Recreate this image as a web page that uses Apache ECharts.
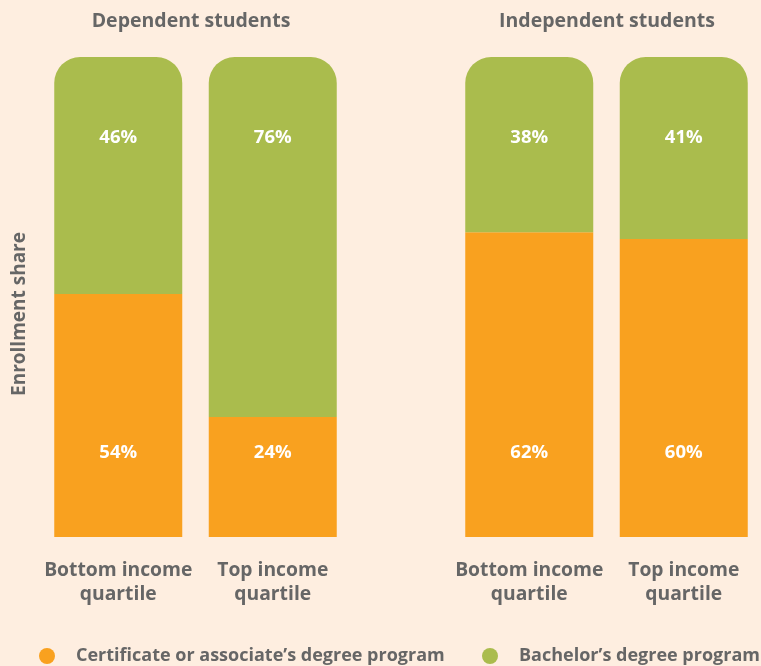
<!DOCTYPE html>
<html>
<head>
<meta charset="utf-8">
<script src="https://cdn.jsdelivr.net/npm/echarts@6/dist/echarts.min.js"></script>
<style>
  html, body { margin: 0; padding: 0; background: #FEEEE0; }
  #chart { width: 761px; height: 666px; }
</style>
</head>
<body>
<div id="chart"></div>
<script>
// categories
const categories = ['Bottom income\nquartile', 'Top income\nquartile'];
const panelTitles = ['Dependent students', 'Independent students'];
const seriesNames = ['Certificate or associate\u2019s degree program', 'Bachelor\u2019s degree program'];

// bar heights as drawn (share of the bar)
const certDep = [50.6, 25];
const bachDep = [49.4, 75];
const certInd = [63.5, 62.1];
const bachInd = [36.5, 37.9];

// printed labels
const certDepLabels = ['54%', '24%'];
const bachDepLabels = ['46%', '76%'];
const certIndLabels = ['62%', '60%'];
const bachIndLabels = ['38%', '41%'];

const ORANGE = '#F9A11F';
const GREEN = '#AABC4D';
const GREY = '#666666';
const FONT = 'Open Sans';

const chart = echarts.init(document.getElementById('chart'));

// builds one stacked series
function makeSeries(name, data, labels, idx, color, isTop) {
    return {
        name: name,
        type: 'bar',
        stack: 'p' + idx,
        xAxisIndex: idx,
        yAxisIndex: idx,
        barWidth: 128,
        data: data,
        itemStyle: { color: color, borderRadius: isTop ? [26, 26, 0, 0] : 0 },
        label: {
            show: true,
            position: isTop ? 'insideTop' : 'insideBottom',
            distance: isTop ? 71 : 75,
            color: '#fff',
            fontFamily: FONT,
            fontWeight: 'bold',
            fontSize: 18.5,
            formatter: p => labels[p.dataIndex]
        },
        emphasis: { disabled: true }
    };
}

// one legend per series name, placed like the reference
function makeLegend(name, left) {
    return {
        data: [name],
        left: left,
        top: 647,
        padding: 0,
        icon: 'circle',
        itemWidth: 16,
        itemHeight: 16,
        selectedMode: false,
        textStyle: {
            color: GREY,
            fontFamily: FONT,
            fontWeight: 'bold',
            fontSize: 18,
            padding: [0, 0, 0, 16]
        }
    };
}

const xAxisBase = {
    type: 'category',
    data: categories,
    axisLine: { show: false },
    axisTick: { show: false },
    axisLabel: {
        interval: 0,
        color: GREY,
        fontFamily: FONT,
        fontWeight: 'bold',
        fontSize: 19.3,
        lineHeight: 24,
        margin: 22
    }
};
const yAxisBase = { type: 'value', min: 0, max: 100, show: false };

chart.setOption({
    backgroundColor: '#FEEEE0',
    animation: false,
    grid: [
        { left: 41, width: 309, top: 57, height: 480 },
        { left: 452, width: 309, top: 57, height: 480 }
    ],
    xAxis: [
        Object.assign({ gridIndex: 0 }, xAxisBase),
        Object.assign({ gridIndex: 1 }, xAxisBase)
    ],
    yAxis: [
        Object.assign({ gridIndex: 0 }, yAxisBase),
        Object.assign({ gridIndex: 1 }, yAxisBase)
    ],
    legend: [
        makeLegend(seriesNames[0], 39),
        makeLegend(seriesNames[1], 482)
    ],
    graphic: [
        {
            type: 'text', x: 191, y: 21,
            style: { text: panelTitles[0], fill: GREY, font: 'bold 19.5px "Open Sans"', textAlign: 'center', textVerticalAlign: 'middle' }
        },
        {
            type: 'text', x: 607, y: 21,
            style: { text: panelTitles[1], fill: GREY, font: 'bold 19.5px "Open Sans"', textAlign: 'center', textVerticalAlign: 'middle' }
        },
        {
            type: 'text', x: 20, y: 314, rotation: Math.PI / 2,
            style: { text: 'Enrollment share', fill: GREY, font: 'bold 19px "Open Sans"', textAlign: 'center', textVerticalAlign: 'middle' }
        }
    ],
    series: [
        makeSeries(seriesNames[0], certDep, certDepLabels, 0, ORANGE, false),
        makeSeries(seriesNames[1], bachDep, bachDepLabels, 0, GREEN, true),
        makeSeries(seriesNames[0], certInd, certIndLabels, 1, ORANGE, false),
        makeSeries(seriesNames[1], bachInd, bachIndLabels, 1, GREEN, true)
    ]
});
</script>
</body>
</html>
